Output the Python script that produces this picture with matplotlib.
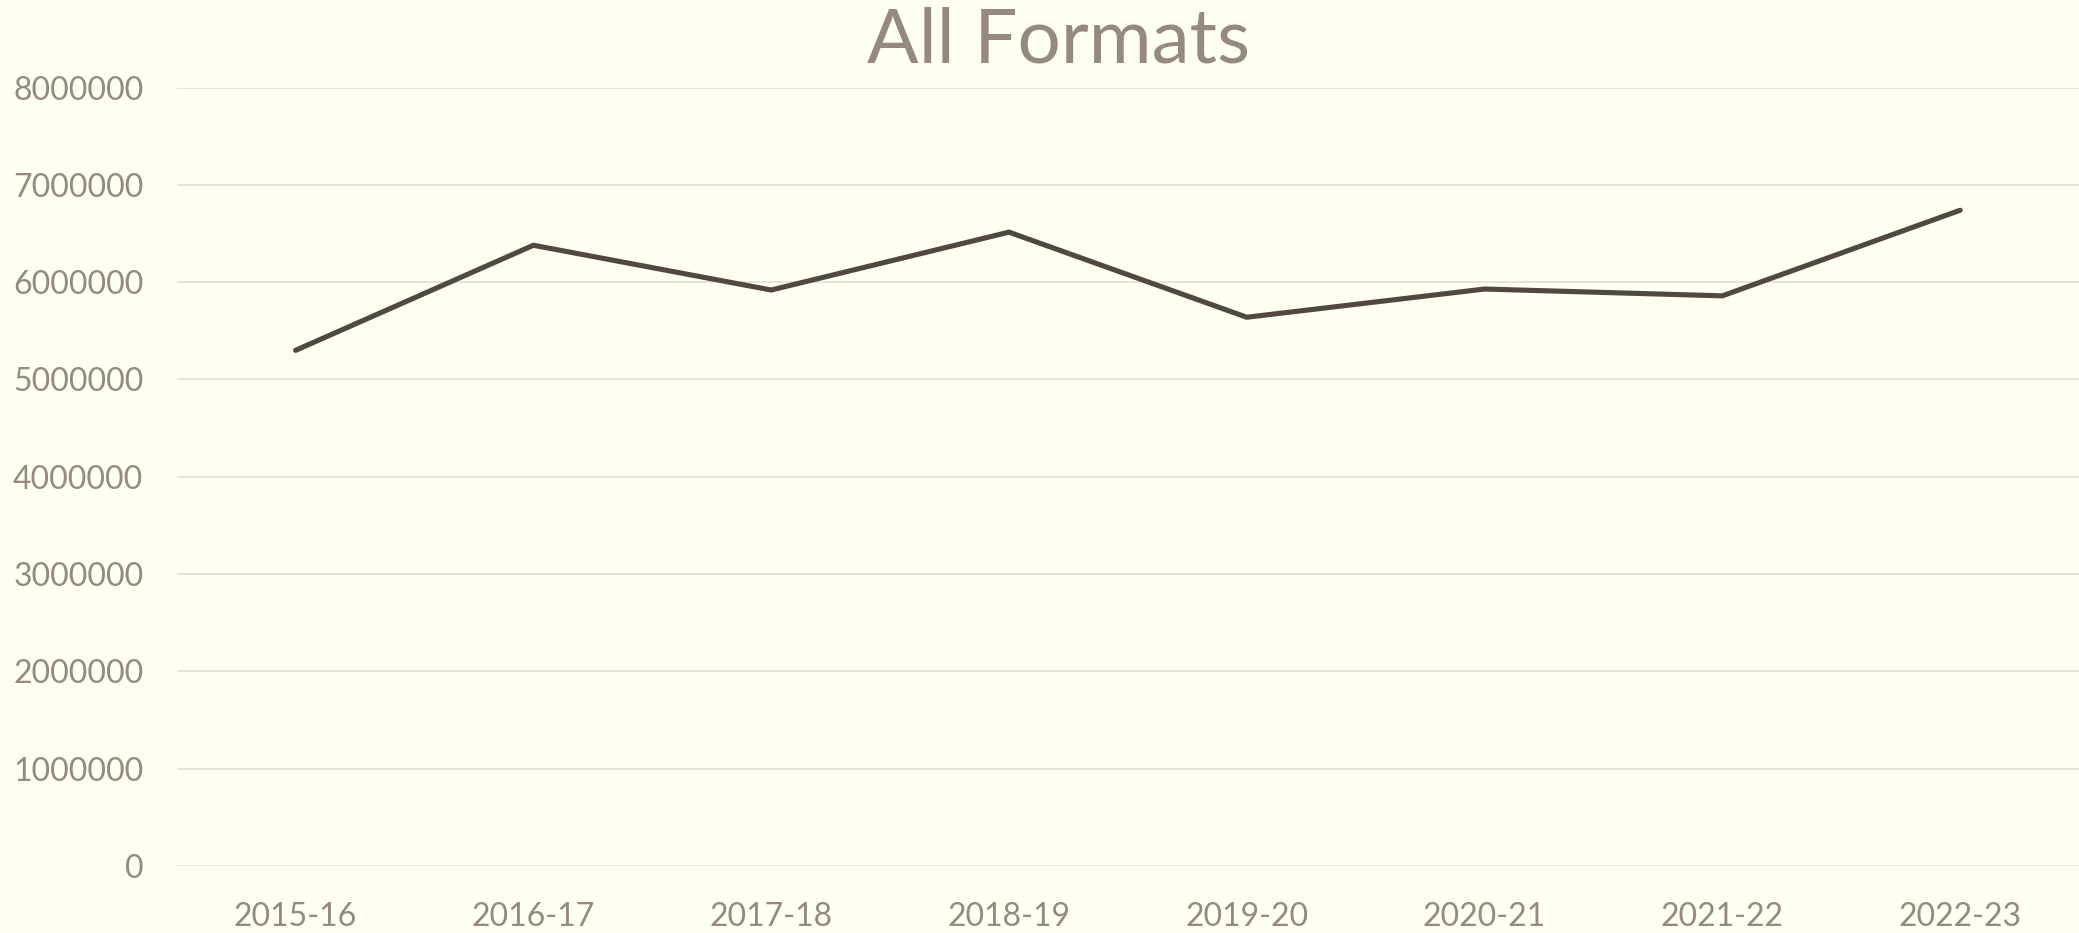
import matplotlib
matplotlib.use("Agg")
import matplotlib.pyplot as plt

# data
years = ["2015-16", "2016-17", "2017-18", "2018-19",
         "2019-20", "2020-21", "2021-22", "2022-23"]
all_formats = [5300000, 6380000, 5920000, 6515000,
               5640000, 5930000, 5860000, 6740000]
y_ticks = [0, 1000000, 2000000, 3000000, 4000000,
           5000000, 6000000, 7000000, 8000000]

bg = "#FFFFF2"
text_col = "#968A80"
line_col = "#504841"
grid_col = "#E0E0DA"

plt.rcParams["font.family"] = ["Lato", "DejaVu Sans"]

fig = plt.figure(figsize=(20.79, 9.33), dpi=100, facecolor=bg)
ax = fig.add_axes([0.085, 0.072, 0.915, 0.834], facecolor=bg)

x = list(range(len(years)))
ax.plot(x, all_formats, color=line_col, linewidth=3.7, solid_capstyle="round",
        solid_joinstyle="miter")

ax.set_xlim(-0.5, len(years) - 0.5)
ax.set_ylim(0, 8000000)
ax.set_yticks(y_ticks)
ax.set_yticklabels([str(v) for v in y_ticks])
ax.set_xticks(x)
ax.set_xticklabels(years)

ax.grid(axis="y", color=grid_col, linewidth=1.3)
ax.set_axisbelow(True)
for s in ax.spines.values():
    s.set_visible(False)
ax.tick_params(axis="both", length=0, labelsize=23, labelcolor=text_col)
ax.tick_params(axis="y", pad=24)
ax.tick_params(axis="x", pad=26)

fig.text(0.509, 0.933, "All Formats", ha="center", va="baseline",
         fontsize=55, color=text_col)

fig.savefig("out.png", dpi=100, facecolor=bg)
